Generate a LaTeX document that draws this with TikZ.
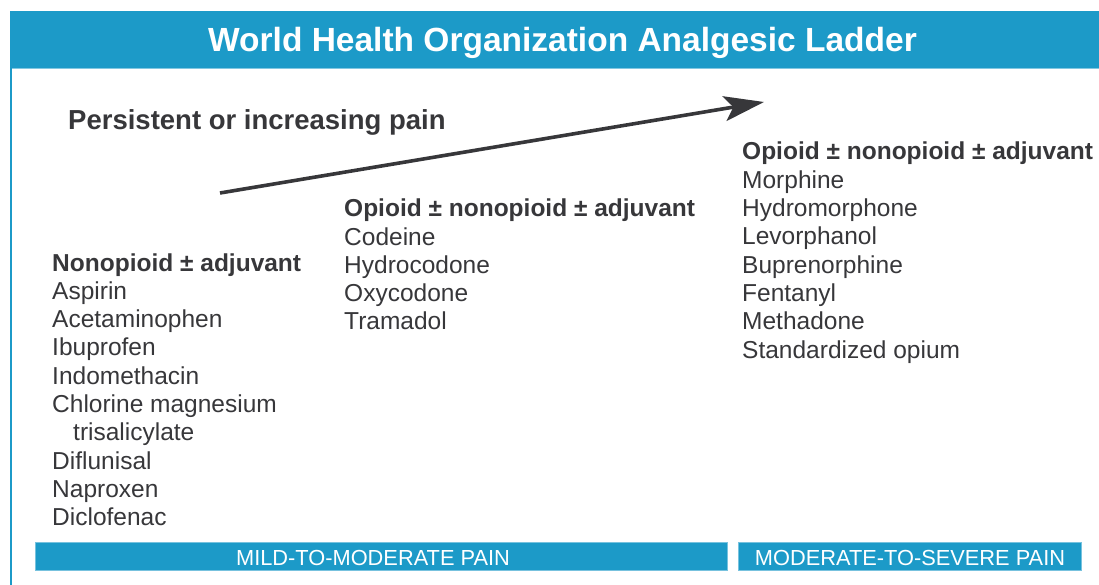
\documentclass[tikz,border=0pt]{standalone}
\usepackage{fontspec}
\setmainfont{Liberation Sans}
\usetikzlibrary{arrows.meta}
\definecolor{whoblue}{RGB}{28,154,200}
\definecolor{inkgray}{RGB}{55,55,58}
\begin{document}
\begin{tikzpicture}[x=1pt,y=-1pt,
  txt/.style={anchor=base west,inner sep=0pt,text=inkgray,font=\fontsize{24.5}{28}\selectfont},
  head/.style={txt,font=\fontsize{24.5}{28}\selectfont\bfseries},
  bandlabel/.style={anchor=base,inner sep=0pt,text=white,font=\fontsize{21.8}{24}\selectfont},
  band/.style={fill=whoblue,draw=whoblue!60,line width=0.8pt}]
\useasboundingbox (0,0) rectangle (1099,585);

% frame: title band and left rule
\fill[whoblue] (10,11) rectangle (1099,68);
\draw[whoblue!55,line width=1.2pt] (10,68.5) -- (1099,68.5);
\draw[whoblue,line width=2pt] (11,68) -- (11,585);
\node[anchor=base,inner sep=0pt,text=white,font=\fontsize{33.5}{36}\selectfont\bfseries]
  (title) at (562.5,52) {World Health Organization Analgesic Ladder};

% rising-pain arrow
\node[anchor=base west,inner sep=0pt,text=inkgray,font=\fontsize{27.5}{30}\selectfont\bfseries]
  (pain) at (68,130) {Persistent or increasing pain};
\coordinate (arrowfrom) at (220,193);
\coordinate (arrowto) at (764,102);
\draw[inkgray,line width=3.6pt,-{Stealth[length=40pt,width=25pt,inset=9pt]}] (arrowfrom) -- (arrowto);

% step 1
\node[head] (s1h) at (52,271) {Nonopioid \textpm{} adjuvant};
\node[txt] (s1a) at (52,299.3) {Aspirin};
\node[txt] (s1b) at (52,327.6) {Acetaminophen};
\node[txt] (s1c) at (52,355.9) {Ibuprofen};
\node[txt] (s1d) at (52,384.2) {Indomethacin};
\node[txt] (s1e) at (52,412.5) {Chlorine magnesium};
\node[txt] (s1f) at (73,440.8) {trisalicylate};
\node[txt] (s1g) at (52,469.1) {Diflunisal};
\node[txt] (s1h2) at (52,497.4) {Naproxen};
\node[txt] (s1i) at (52,525.7) {Diclofenac};

% step 2
\node[head] (s2h) at (344,217) {Opioid \textpm{} nonopioid \textpm{} adjuvant};
\node[txt] (s2a) at (344,245.2) {Codeine};
\node[txt] (s2b) at (344,273.4) {Hydrocodone};
\node[txt] (s2c) at (344,301.6) {Oxycodone};
\node[txt] (s2d) at (344,329.8) {Tramadol};

% step 3
\node[head] (s3h) at (742,160) {Opioid \textpm{} nonopioid \textpm{} adjuvant};
\node[txt] (s3a) at (742,188.3) {Morphine};
\node[txt] (s3b) at (742,216.6) {Hydromorphone};
\node[txt] (s3c) at (742,244.9) {Levorphanol};
\node[txt] (s3d) at (742,273.2) {Buprenorphine};
\node[txt] (s3e) at (742,301.5) {Fentanyl};
\node[txt] (s3f) at (742,329.8) {Methadone};
\node[txt] (s3g) at (742,358.1) {Standardized opium};

% severity bands
\path[band] (35,542) rectangle (727,570);
\node[bandlabel] (mild) at (373,565.5) {MILD-TO-MODERATE PAIN};
\path[band] (738,542) rectangle (1081,570);
\node[bandlabel] (severe) at (910,565.5) {MODERATE-TO-SEVERE PAIN};
\end{tikzpicture}
\end{document}
